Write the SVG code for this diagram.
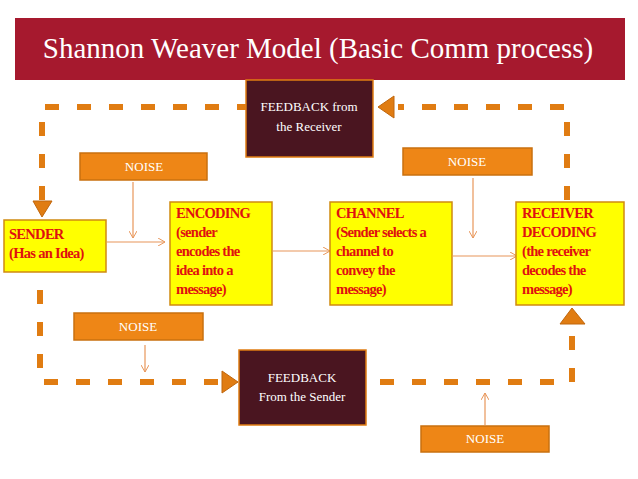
<svg xmlns="http://www.w3.org/2000/svg" width="638" height="479" viewBox="0 0 638 479">
<defs>
<style>
.dash{fill:none;stroke:#e07c12;stroke-width:6;stroke-dasharray:14 18}
.thin{fill:none;stroke:#e8965a;stroke-width:1.2}
.head{fill:#e07c12;stroke:#c0660c;stroke-width:1}
.noise{fill:#ee8616;stroke:#c9700f;stroke-width:1.5}
.noise-t{font-family:"Liberation Serif",serif;font-size:13px;fill:#fff;text-anchor:middle}
.fb{fill:#4a1520;stroke:#e07c12;stroke-width:1.5}
.fb-t{font-family:"Liberation Serif",serif;font-size:13px;fill:#fff;text-anchor:middle}
.yb{fill:#ffff00;stroke:#d08a10;stroke-width:1.5}
.yt{font-family:"Liberation Serif",serif;font-size:14.5px;font-weight:bold;fill:#e01010;letter-spacing:-0.7px}
</style>
<marker id="a" markerWidth="8" markerHeight="8" refX="7" refY="4" orient="auto" markerUnits="userSpaceOnUse"><path d="M0,0 L7,4 L0,8" fill="none" stroke="#e8965a" stroke-width="1"/></marker>
</defs>
<g id="title">
<rect x="15" y="18" width="610" height="62" fill="#a6192e"/>
<text x="318" y="58" font-family="Liberation Serif,serif" font-size="29" fill="#fff" text-anchor="middle">Shannon Weaver Model (Basic Comm process)</text>
</g>
<g id="connectors">
<path class="dash" d="M42,200 V107 H370"/>
<path class="dash" d="M567,200 V107 H398"/>
<polygon class="head" points="33,201 52,201 42,217"/>
<polygon class="head" points="378,107 394,96 394,118"/>
<path class="dash" d="M40,290 V382 H222"/>
<path class="dash" d="M380,382 H572 V330"/>
<polygon class="head" points="222,371 222,393 238,382"/>
<polygon class="head" points="572,308 560,324 585,324"/>
<line class="thin" x1="133" y1="182" x2="133" y2="238" marker-end="url(#a)"/>
<line class="thin" x1="473" y1="178" x2="473" y2="238" marker-end="url(#a)"/>
<line class="thin" x1="145" y1="345" x2="145" y2="372" marker-end="url(#a)"/>
<line class="thin" x1="485" y1="425" x2="485" y2="393" marker-end="url(#a)"/>
<line class="thin" x1="107" y1="242" x2="165" y2="242" marker-end="url(#a)"/>
<line class="thin" x1="273" y1="251" x2="330" y2="251" marker-end="url(#a)"/>
<line class="thin" x1="453" y1="256" x2="517" y2="256" marker-end="url(#a)"/>
</g>
<g id="fb-receiver"><rect class="fb" x="246" y="80" width="127" height="77"/><text class="fb-t" x="309" y="111">FEEDBACK from</text><text class="fb-t" x="309" y="131">the Receiver</text></g>
<g id="fb-sender"><rect class="fb" x="239" y="350" width="127" height="75"/><text class="fb-t" x="302" y="382">FEEDBACK</text><text class="fb-t" x="302" y="401">From the Sender</text></g>
<g id="noise1"><rect class="noise" x="80" y="153" width="127" height="27"/><text class="noise-t" x="144" y="171">NOISE</text></g>
<g id="noise2"><rect class="noise" x="403" y="148" width="129" height="27"/><text class="noise-t" x="467" y="166">NOISE</text></g>
<g id="noise3"><rect class="noise" x="74" y="313" width="129" height="27"/><text class="noise-t" x="138" y="331">NOISE</text></g>
<g id="noise4"><rect class="noise" x="421" y="426" width="128" height="26"/><text class="noise-t" x="485" y="443">NOISE</text></g>
<g id="sender"><rect class="yb" x="4" y="220" width="102" height="52"/><text class="yt" x="9" y="239">SENDER</text><text class="yt" x="9" y="258">(Has an Idea)</text></g>
<g id="encoding"><rect class="yb" x="170" y="202" width="102" height="103"/>
<text class="yt" x="176" y="218">ENCODING</text><text class="yt" x="176" y="237">(sender</text><text class="yt" x="176" y="256">encodes the</text><text class="yt" x="176" y="275">idea into a</text><text class="yt" x="176" y="294">message)</text></g>
<g id="channel"><rect class="yb" x="330" y="202" width="122" height="103"/>
<text class="yt" x="336" y="218">CHANNEL</text><text class="yt" x="336" y="237">(Sender selects a</text><text class="yt" x="336" y="256">channel to</text><text class="yt" x="336" y="275">convey the</text><text class="yt" x="336" y="294">message)</text></g>
<g id="receiver"><rect class="yb" x="516" y="202" width="108" height="103"/>
<text class="yt" x="522" y="218">RECEIVER</text><text class="yt" x="522" y="237">DECODING</text><text class="yt" x="522" y="256">(the receiver</text><text class="yt" x="522" y="275">decodes the</text><text class="yt" x="522" y="294">message)</text></g>
</svg>
